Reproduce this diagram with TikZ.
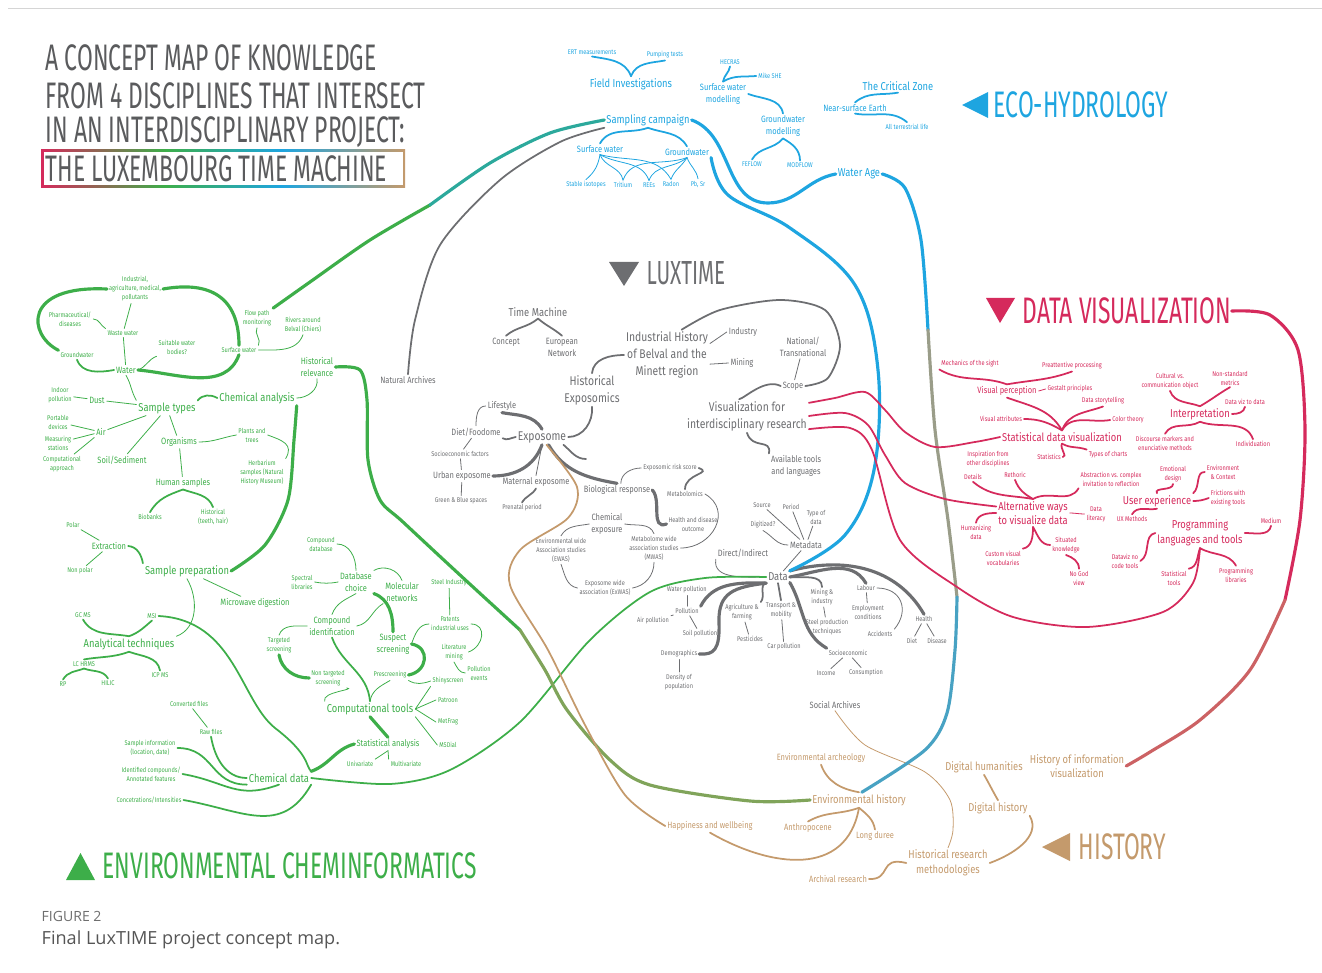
\documentclass[tikz,border=0pt]{standalone}
\usepackage{fontspec}
\setmainfont{Fira Sans}[FakeStretch=0.82]
\newfontfamily\headfont{Fira Sans}[FakeStretch=0.62]
\newfontfamily\capfont{Open Sans}
\usepackage{xcolor}
\usetikzlibrary{positioning, calc}
\tikzset{every picture/.append style={thick}}

\definecolor{ecoblue}{HTML}{1EA5E0}
\definecolor{envgreen}{HTML}{3DAE49}
\definecolor{luxgrey}{HTML}{6D6E71}
\definecolor{dvred}{HTML}{D52A5C}
\definecolor{histtan}{HTML}{C49A6C}
\definecolor{titlegrey}{HTML}{5A5B5D}
\definecolor{framegrey}{HTML}{D5D5D5}
\definecolor{capgrey}{HTML}{555555}
\colorlet{tealmix}{ecoblue!55!envgreen}
\colorlet{tanblue}{histtan!75!ecoblue}
\colorlet{bluetan}{ecoblue!75!histtan}
\colorlet{olivemix}{envgreen!50!histtan}
\colorlet{redtan}{dvred!50!histtan}

\pgfdeclarehorizontalshading{boxshade}{100bp}{color(0bp)=(dvred); color(25bp)=(dvred); color(42bp)=(envgreen); color(58bp)=(ecoblue); color(75bp)=(histtan); color(100bp)=(histtan)}

\tikzset{
  eco/.style={text=ecoblue, align=center, inner sep=0.8pt},
  env/.style={text=envgreen, align=center, inner sep=0.8pt},
  lux/.style={text=luxgrey, align=center, inner sep=0.8pt},
  dv/.style={text=dvred, align=center, inner sep=0.8pt},
  hist/.style={text=histtan, align=center, inner sep=0.8pt},
  xs/.style={font=\fontsize{3.9}{5.1}\selectfont},
  sm/.style={font=\fontsize{5.2}{6.8}\selectfont},
  md/.style={font=\fontsize{6.5}{8.4}\selectfont},
  lg/.style={font=\fontsize{7.2}{9.6}\selectfont},
  head/.style={font=\headfont\fontsize{21}{25}\selectfont, anchor=west, inner sep=0pt},
  ecoln/.style={draw=ecoblue, line width=0.45pt, line cap=round},
  envln/.style={draw=envgreen, line width=0.45pt, line cap=round},
  luxln/.style={draw=luxgrey, line width=0.45pt, line cap=round},
  dvln/.style={draw=dvred, line width=0.45pt, line cap=round},
  histln/.style={draw=histtan, line width=0.45pt, line cap=round},
  thk/.style={line width=1.0pt},
  big/.style={line width=1.8pt}
}

\begin{document}
\begin{tikzpicture}[x=0.02cm, y=0.02cm]
    \useasboundingbox (0,0) rectangle (1322,-973);

    % ==========================================
    % TITLE, FRAME AND CAPTION
    % ==========================================
    \draw[framegrey, line width=0.5pt] (8,-8) -- (1322,-8);
    \shade[shading=boxshade] (41,-150) rectangle (405,-188);
    \fill[white] (43.5,-152.5) rectangle (402.5,-185.5);
    \node[head, text=titlegrey] (title1) at (45,-58) {A CONCEPT MAP OF KNOWLEDGE};
    \node[head, text=titlegrey] (title2) at (45,-96) {FROM 4 DISCIPLINES THAT INTERSECT};
    \node[head, text=titlegrey] (title3) at (45,-132) {IN AN INTERDISCIPLINARY PROJECT:};
    \node[head, text=titlegrey] (title4) at (45,-169) {THE LUXEMBOURG TIME MACHINE};

    \node[anchor=west, inner sep=0pt, text=capgrey!85, font=\capfont\fontsize{8}{9}\selectfont] (figlabel) at (41,-916) {FIGURE 2};
    \node[anchor=west, inner sep=0pt, text=capgrey, font=\capfont\fontsize{10.3}{12}\selectfont] (figcaption) at (41,-940) {Final LuxTIME project concept map.};

    % ==========================================
    % HEADINGS
    % ==========================================
    \fill[ecoblue] (962,-105) -- (988,-92) -- (988,-118) -- cycle;
    \node[head, text=ecoblue] (ecohead) at (993,-105) {ECO-HYDROLOGY};
    \fill[luxgrey] (609,-262) -- (639,-262) -- (624,-286) -- cycle;
    \node[head, text=luxgrey, font=\headfont\fontsize{19}{22}\selectfont] (luxhead) at (646,-273) {LUXTIME};
    \fill[dvred] (986,-298) -- (1015,-298) -- (1000,-323) -- cycle;
    \node[head, text=dvred] (dvhead) at (1022,-311) {DATA VISUALIZATION};
    \fill[histtan] (1042,-847) -- (1070,-833) -- (1070,-861) -- cycle;
    \node[head, text=histtan] (histhead) at (1078,-847) {HISTORY};
    \fill[envgreen] (66,-880) -- (95,-880) -- (80.5,-853) -- cycle;
    \node[head, text=envgreen] (envhead) at (102,-866) {ENVIRONMENTAL CHEMINFORMATICS};

    % ==========================================
    % ECO-HYDROLOGY
    % ==========================================
    % 1. Nodes
    \node[eco,xs] (ert) at (592,-52) {ERT measurements};
    \node[eco,xs] (pump) at (665,-55) {Pumping tests};
    \node[eco,md] (fieldinv) at (631,-84) {Field Investigations};
    \node[eco,xs] (hecras) at (730,-62) {HECRAS};
    \node[eco,xs] (mikeshe) at (770,-76) {Mike SHE};
    \node[eco,sm] (swmod) at (723,-94) {Surface water\\modelling};
    \node[eco,sm] (gwmod) at (783,-126) {Groundwater\\modelling};
    \node[eco,xs] (feflow) at (752,-164) {FEFLOW};
    \node[eco,xs] (modflow) at (800,-165) {MODFLOW};
    \node[eco,md] (critzone) at (898,-86) {The Critical Zone};
    \node[eco,sm] (nearsurf) at (855,-108) {Near-surface Earth};
    \node[eco,xs] (terrlife) at (907,-127) {All terrestrial life};
    \node[eco,md] (sampling) at (648,-120) {Sampling campaign};
    \node[eco,sm] (ecosw) at (600,-149) {Surface water};
    \node[eco,sm] (ecogw) at (687,-152) {Groundwater};
    \node[eco,xs] (stableiso) at (586,-185) {Stable isotopes};
    \node[eco,xs] (tritium) at (623,-185) {Tritium};
    \node[eco,xs] (rees) at (649,-185) {REEs};
    \node[eco,xs] (radon) at (671,-184) {Radon};
    \node[eco,xs] (pbsr) at (698,-184) {Pb, Sr};
    \node[eco,md] (waterage) at (859,-174) {Water Age};

    % 2. Connectors
    \draw[ecoln,thk] (ert.south) to[out=-10,in=110] (fieldinv.north);
    \draw[ecoln,thk] (pump.south) to[out=190,in=70] (fieldinv.north);
    \draw[ecoln,thk] (hecras.south) to[out=-100,in=80] (swmod.north);
    \draw[ecoln,thk] (mikeshe.west) to[out=185,in=30] (swmod.north);
    \draw[ecoln,thk] (swmod.east) to[out=-20,in=100] (gwmod.north);
    \draw[ecoln,thk] (gwmod.south) to[out=-130,in=60] (feflow.north);
    \draw[ecoln,thk] (gwmod.south) to[out=-30,in=90] (modflow.north);
    \draw[ecoln,thk] (critzone.south) to[out=190,in=40] (nearsurf.north);
    \draw[ecoln,thk] (nearsurf.south) to[out=-10,in=140] (terrlife.north);
    \draw[ecoln,thk] (sampling.south) to[out=200,in=60] (ecosw.north);
    \draw[ecoln,thk] (sampling.south) to[out=-20,in=120] (ecogw.north);
    \draw[ecoln] (ecosw.south) to[out=-100,in=40] (stableiso.north);
    \draw[ecoln] (ecosw.south) to[out=-70,in=100] (tritium.north);
    \draw[ecoln] (ecosw.south) to[out=-30,in=110] (rees.north);
    \draw[ecoln] (ecosw.south) to[out=-15,in=120] (radon.north);
    \draw[ecoln] (ecogw.south) to[out=-160,in=70] (tritium.north);
    \draw[ecoln] (ecogw.south) to[out=-140,in=70] (rees.north);
    \draw[ecoln] (ecogw.south) to[out=-120,in=70] (radon.north);
    \draw[ecoln] (ecogw.south) to[out=-70,in=100] (pbsr.north);
    \coordinate (scdip) at (768,-203);
    \draw[ecoln,big] (sampling.east) to[out=-20,in=180] (scdip) to[out=0,in=190] (waterage.west);

    % ==========================================
    % ENVIRONMENTAL CHEMINFORMATICS
    % ==========================================
    % 1. Sample types
    \node[env,xs] (industrial) at (135,-289) {Industrial,\\agriculture, medical,\\pollutants};
    \node[env,xs] (pharma) at (70,-319) {Pharmaceutical/\\diseases};
    \node[env,xs] (wastewater) at (123,-333) {Waste water};
    \node[env,xs] (suitable) at (177,-347) {Suitable water\\bodies?};
    \node[env,xs] (envgw) at (77,-355) {Groundwater};
    \node[env,sm] (water) at (126,-370) {Water};
    \node[env,xs] (flowpath) at (257,-318) {Flow path\\monitoring};
    \node[env,xs] (rivers) at (303,-325) {Rivers around\\Belval (Chiers)};
    \node[env,xs] (envsw) at (239,-350) {Surface water};
    \node[env,sm] (histrel) at (317,-367) {Historical\\relevance};
    \node[env,xs] (indoor) at (60,-395) {Indoor\\pollution};
    \node[env,sm] (dust) at (97,-400) {Dust};
    \node[env,md] (sampletypes) at (167,-408) {Sample types};
    \node[env,md] (chemanalysis) at (257,-398) {Chemical analysis};
    \node[env,xs] (portable) at (58,-422) {Portable\\devices};
    \node[env,sm] (air) at (101,-432) {Air};
    \node[env,xs] (measuring) at (58,-443) {Measuring\\stations};
    \node[env,xs] (computational) at (62,-464) {Computational\\approach};
    \node[env,sm] (soil) at (122,-460) {Soil/Sediment};
    \node[env,sm] (organisms) at (179,-442) {Organisms};
    \node[env,xs] (plants) at (252,-435) {Plants and\\trees};
    \node[env,xs] (herbarium) at (262,-473) {Herbarium\\samples (Natural\\History Museum)};
    \node[env,sm] (human) at (183,-483) {Human samples};
    \node[env,xs] (biobanks) at (150,-517) {Biobanks};
    \node[env,xs] (histteeth) at (213,-517) {Historical\\(teeth, hair)};

    \draw[envln] (industrial) -- (wastewater);
    \draw[envln] (pharma.east) to[out=0,in=150] (wastewater.north west);
    \draw[envln] (wastewater) -- (water);
    \draw[envln] (suitable.south west) to[out=200,in=20] (water.east);
    \draw[envln,thk] (envgw.south) to[out=-70,in=190] (water.west);
    \draw[envln,big] (envgw.north west) .. controls (28,-335) and (22,-285) .. (industrial.west);
    \draw[envln,big] (industrial.east) to[out=10,in=90,looseness=1.3] (envsw.north);
    \draw[envln,big] (water.east) to[out=-5,in=-110] (envsw.south);
    \draw[envln] (flowpath.south) to[out=-120,in=60] (envsw.north east);
    \draw[envln] (rivers.south) to[out=-110,in=0] (envsw.east);
    \draw[envln] (histrel.south) to[out=-80,in=0] (chemanalysis.east);
    \draw[envln] (water.south) to[out=-60,in=120] (sampletypes.north west);
    \draw[envln] (dust) -- (indoor);
    \draw[envln] (dust) -- (sampletypes);
    \draw[envln,thk] (sampletypes.north east) to[out=50,in=150] (chemanalysis.west);
    \draw[envln] (air) -- (sampletypes);
    \draw[envln] (air) -- (portable);
    \draw[envln] (air) -- (measuring);
    \draw[envln] (air) -- (computational);
    \draw[envln] (soil) -- (sampletypes);
    \draw[envln] (organisms) -- (sampletypes);
    \draw[envln] (organisms.east) to[out=0,in=190] (plants.west);
    \draw[envln] (plants.east) to[out=-20,in=60,looseness=1.4] (herbarium.north east);
    \draw[envln] (organisms) -- (human);
    \draw[envln,thk] (human.south) to[out=200,in=60] (biobanks.north);
    \draw[envln,thk] (human.south) to[out=-20,in=110] (histteeth.north);

    % 2. Sample preparation and analysis
    \node[env,xs] (polar) at (73,-525) {Polar};
    \node[env,sm] (extraction) at (109,-546) {Extraction};
    \node[env,xs] (nonpolar) at (80,-571) {Non polar};
    \node[env,md] (sampleprep) at (187,-571) {Sample preparation};
    \node[env,sm] (microwave) at (255,-603) {Microwave digestion};
    \node[env,xs] (gcms) at (83,-615) {GC MS};
    \node[env,xs] (msi) at (152,-616) {MSI};
    \node[env,md] (analytical) at (129,-644) {Analytical techniques};
    \node[env,xs] (lchrms) at (84,-664) {LC HRMS};
    \node[env,xs] (icpms) at (160,-675) {ICP MS};
    \node[env,xs] (rp) at (63,-684) {RP};
    \node[env,xs] (hilic) at (108,-683) {HILIC};

    \draw[envln,big] plot[smooth] coordinates {(chemanalysis.south east) (294,-440) (288,-500) (265,-545) (sampleprep.east)};
    \draw[envln] (polar) -- (extraction);
    \draw[envln] (nonpolar) -- (extraction);
    \draw[envln,thk] (extraction.east) to[out=-5,in=100] (sampleprep.north west);
    \draw[envln] (sampleprep) -- (microwave);
    \draw[envln] (sampleprep.south) to[out=-60,in=20] (analytical.north east);
    \draw[envln,thk] (gcms.south) to[out=-60,in=170] (analytical.north);
    \draw[envln,thk] (msi.south) to[out=-140,in=20] (analytical.north);
    \draw[envln,thk] (analytical.south) to[out=-160,in=10] (lchrms.north);
    \draw[envln,thk] (analytical.south) to[out=-20,in=100] (icpms.north);
    \draw[envln,thk] (lchrms.south) to[out=200,in=60] (rp.north);
    \draw[envln,thk] (lchrms.south) to[out=-20,in=120] (hilic.north);

    % 3. Chemical data
    \node[env,xs] (converted) at (189,-704) {Converted files};
    \node[env,xs] (rawfiles) at (211,-732) {Raw files};
    \node[env,xs] (sampleinfo) at (150,-748) {Sample information\\(location, date)};
    \node[env,xs] (identified) at (151,-774) {Identified compounds/\\Annotated features};
    \node[env,xs] (concentr) at (149,-800) {Concetrations/Intensities};
    \node[env,md] (chemdata) at (279,-778) {Chemical data};

    \draw[envln,thk] (msi.east) .. controls (235,-620) and (240,-700) .. (275,-728) .. controls (310,-755) and (305,-765) .. (chemdata.north east);
    \draw[envln] (converted) -- (rawfiles);
    \draw[envln,thk] (rawfiles.south) to[out=-80,in=180] (chemdata.west);
    \draw[envln,thk] (sampleinfo.east) to[out=0,in=180,looseness=1.2] (chemdata.south west);
    \draw[envln,thk] (identified.east) to[out=-10,in=200,looseness=1.2] (chemdata.south);
    \draw[envln,thk] (concentr.east) to[out=-10,in=-120,looseness=1.2] (chemdata.south east);

    % 4. Compound identification and tools
    \node[env,xs] (compdb) at (321,-544) {Compound\\database};
    \node[env,sm] (dbchoice) at (356,-582) {Database\\choice};
    \node[env,xs] (spectral) at (302,-582) {Spectral\\libraries};
    \node[env,sm] (molnet) at (402,-592) {Molecular\\networks};
    \node[env,sm] (compid) at (332,-626) {Compound\\identification};
    \node[env,xs] (steelind) at (449,-583) {Steel Industry};
    \node[env,xs] (patents) at (450,-624) {Patents\\industrial uses};
    \node[env,sm] (suspect) at (393,-644) {Suspect\\screening};
    \node[env,xs] (litmining) at (454,-652) {Literature\\mining};
    \node[env,xs] (pollevents) at (479,-673) {Pollution\\events};
    \node[env,xs] (targeted) at (279,-645) {Targeted\\screening};
    \node[env,xs] (nontargeted) at (328,-678) {Non targeted\\screening};
    \node[env,xs] (prescreening) at (390,-675) {Prescreening};
    \node[env,xs] (shinyscreen) at (448,-681) {Shinyscreen};
    \node[env,md] (comptools) at (370,-709) {Computational tools};
    \node[env,xs] (patroon) at (448,-700) {Patroon};
    \node[env,xs] (metfrag) at (448,-722) {MetFrag};
    \node[env,xs] (msdial) at (448,-745) {MSDial};
    \node[env,sm] (statanalysis) at (388,-744) {Statistical analysis};
    \node[env,xs] (univariate) at (360,-764) {Univariate};
    \node[env,xs] (multivariate) at (406,-764) {Multivariate};

    \draw[envln] (compdb.east) to[out=0,in=90] (dbchoice.north);
    \draw[envln] (spectral.east) to[out=-10,in=190] (dbchoice.west);
    \draw[envln] (dbchoice.north east) to[out=30,in=110] (molnet.north);
    \draw[envln] (dbchoice.south) to[out=-150,in=70] (compid.north);
    \draw[envln] (molnet.south west) to[out=-150,in=10] (compid.east);
    \draw[envln,big] (dbchoice.south east) to[out=-20,in=90] (suspect.north);
    \draw[envln] (compid.west) to[out=180,in=70] (targeted.north);
    \draw[envln,big] (targeted.south) to[out=-80,in=180] (nontargeted.west);
    \draw[envln] (nontargeted.south east) to[out=-10,in=110] (comptools.north west);
    \draw[envln,thk] (compid.south) to[out=-70,in=95] (comptools.north);
    \draw[envln,big] (suspect.east) to[out=-10,in=10,looseness=1.6] (prescreening.east);
    \draw[envln] (prescreening.south) to[out=-150,in=80] (comptools.north);
    \draw[envln] (suspect.east) to[out=70,in=180] (patents.west);
    \draw[envln] (steelind) -- (patents);
    \draw[envln] (patents.east) to[out=0,in=20,looseness=1.5] (litmining.east);
    \draw[envln] (litmining.south) to[out=-60,in=180] (pollevents.west);
    \draw[envln] (prescreening.south east) to[out=-30,in=200] (shinyscreen.west);
    \draw[envln] (comptools.east) -- (shinyscreen.south west);
    \draw[envln] (comptools.east) -- (patroon.west);
    \draw[envln] (comptools.east) -- (metfrag.west);
    \draw[envln] (comptools.south east) -- (msdial.west);
    \draw[envln,big] (comptools.south) -- (statanalysis.north);
    \draw[envln] (statanalysis.south) -- (univariate.north east);
    \draw[envln] (statanalysis.south) -- (multivariate.north west);
    \draw[envln,big] (chemdata.north east) to[out=20,in=195] (statanalysis.west);

    % ==========================================
    % LUXTIME
    % ==========================================
    % 1. Historical exposomics
    \node[lux,md] (timemachine) at (538,-312) {Time Machine};
    \node[lux,sm] (concept) at (506,-342) {Concept};
    \node[lux,sm] (eunet) at (562,-347) {European\\Network};
    \node[lux,sm] (natarch) at (408,-380) {Natural Archives};
    \node[lux,lg] (histexpo) at (592,-390) {Historical\\Exposomics};
    \node[lux,lg] (indhist) at (667,-355) {Industrial History\\of Belval and the\\Minett region};
    \node[lux,sm] (industry) at (743,-332) {Industry};
    \node[lux,sm] (mining) at (742,-363) {Mining};
    \node[lux,sm] (national) at (803,-347) {National/\\Transnational};
    \node[lux,sm] (scope) at (793,-386) {Scope};
    \node[lux,lg] (vis4ir) at (747,-416) {Visualization for\\interdisciplinary research};
    \node[lux,sm] (availtools) at (796,-466) {Available tools\\and languages};

    \draw[luxln,thk] (timemachine.south) to[out=-140,in=40] (concept.north);
    \draw[luxln,thk] (timemachine.south) to[out=-40,in=140] (eunet.north);
    \draw[luxln,thk] (histexpo.north) to[out=85,in=180] (indhist.west);
    \draw[luxln] (indhist.15) -- (industry.west);
    \draw[luxln] (indhist.-12) -- (mining.west);
    \draw[luxln,thk] plot[smooth] coordinates {(indhist.60) (720,-310) (780,-300) (825,-310) (840,-345) (828,-378) (scope.east)};
    \draw[luxln] (national) -- (scope);
    \draw[luxln,thk] (scope.west) .. controls (765,-378) and (745,-398) .. (vis4ir.115);
    \draw[luxln,thk] (vis4ir.south) .. controls (752,-450) and (772,-438) .. (availtools.north west);

    % 2. Exposome
    \node[lux,sm] (lifestyle) at (502,-406) {Lifestyle};
    \node[lux,sm] (diet) at (476,-432) {Diet/Foodome};
    \node[lux,lg] (exposome) at (542,-437) {Exposome};
    \node[lux,xs] (socio) at (460,-454) {Socioeconomic factors};
    \node[lux,sm] (urban) at (462,-476) {Urban exposome};
    \node[lux,sm] (maternal) at (536,-482) {Maternal exposome};
    \node[lux,xs] (greenblue) at (461,-501) {Green \& Blue spaces};
    \node[lux,xs] (prenatal) at (522,-508) {Prenatal period};
    \node[lux,sm] (bioresp) at (617,-490) {Biological response};
    \node[lux,xs] (riskscore) at (670,-468) {Exposomic risk score};
    \node[lux,xs] (metabolomics) at (685,-494) {Metabolomics};
    \node[lux,xs] (health) at (693,-524) {Health and disease\\outcome};
    \node[lux,sm] (chemexp) at (607,-524) {Chemical\\exposure};
    \node[lux,xs] (ewas) at (561,-550) {Environmental wide\\Association studies\\(EWAS)};
    \node[lux,xs] (mwas) at (654,-548) {Metabolome wide\\association studies\\(MWAS)};
    \node[lux,xs] (exwas) at (605,-588) {Exposome wide\\association (ExWAS)};
    \coordinate (expo-stub) at (586,-459);

    \draw[luxln,thk] (exposome.east) to[out=0,in=-85] (histexpo.south);
    \draw[luxln] (lifestyle.west) to[out=180,in=90] (diet.north);
    \draw[luxln,big] (lifestyle.south) to[out=-10,in=120] (exposome.north);
    \draw[luxln,thk] (diet.south east) to[out=-30,in=190] (exposome.west);
    \draw[luxln] (diet) -- (socio);
    \draw[luxln] (socio) -- (urban);
    \draw[luxln] (urban) -- (greenblue);
    \draw[luxln,big] (exposome.south) to[out=-110,in=0] (urban.east);
    \draw[luxln] (exposome.south) -- (maternal.north);
    \draw[luxln,thk] (prenatal.north) to[out=60,in=-120] (maternal.south);
    \draw[luxln,big] (exposome.-50) to[out=-60,in=170] (bioresp.north);
    \draw[luxln,thk] (exposome.-20) to[out=-40,in=180] (expo-stub);
    \draw[luxln] (bioresp.60) to[out=90,in=180] (riskscore.west);
    \draw[luxln,thk] (riskscore.east) to[out=-20,in=90,looseness=1.6] (metabolomics.north);
    \draw[luxln,big] (bioresp.east) .. controls (662,-500) and (650,-530) .. (health.west);
    \draw[luxln] (metabolomics.east) to[out=-30,in=0,looseness=1.4] (mwas.east);
    \draw[luxln] (chemexp.west) to[out=190,in=60] (ewas.north);
    \draw[luxln] (chemexp.east) to[out=-10,in=110] (mwas.north);
    \draw[luxln] (ewas.south) to[out=-70,in=170] (exwas.west);
    \draw[luxln] (mwas.south) to[out=-90,in=10] (exwas.east);

    % 3. Data
    \node[lux,sm] (direct) at (743,-553) {Direct/Indirect};
    \node[lux,md] (data) at (778,-577) {Data};
    \node[lux,xs] (source) at (762,-505) {Source};
    \node[lux,xs] (period) at (791,-507) {Period};
    \node[lux,xs] (typedata) at (816,-517) {Type of\\data};
    \node[lux,xs] (digitized) at (763,-525) {Digitized?};
    \node[lux,sm] (metadata) at (806,-545) {Metadata};
    \node[lux,xs] (waterpol) at (687,-590) {Water pollution};
    \node[lux,xs] (pollution) at (687,-611) {Pollution};
    \node[lux,xs] (airpol) at (653,-621) {Air pollution};
    \node[lux,xs] (soilpol) at (700,-634) {Soil pollution};
    \node[lux,xs] (demog) at (679,-654) {Demographics};
    \node[lux,xs] (density) at (679,-682) {Density of\\population};
    \node[lux,xs] (agri) at (742,-612) {Agriculture \&\\farming};
    \node[lux,xs] (pesticides) at (750,-639) {Pesticides};
    \node[lux,xs] (transport) at (781,-610) {Transport \&\\mobility};
    \node[lux,xs] (carpol) at (784,-647) {Car pollution};
    \node[lux,xs] (miningind) at (822,-597) {Mining \&\\industry};
    \node[lux,xs] (steel) at (827,-627) {Steel production\\techniques};
    \node[lux,xs] (labour) at (866,-588) {Labour};
    \node[lux,xs] (employ) at (868,-612) {Employment\\conditions};
    \node[lux,xs] (accidents) at (880,-634) {Accidents};
    \node[lux,xs] (healthnode) at (924,-619) {Health};
    \node[lux,xs] (dietd) at (912,-641) {Diet};
    \node[lux,xs] (disease) at (937,-641) {Disease};
    \node[lux,xs] (socioeco) at (848,-653) {Socioeconomic};
    \node[lux,xs] (income) at (826,-673) {Income};
    \node[lux,xs] (consumption) at (866,-673) {Consumption};
    \node[lux,sm] (socarch) at (835,-705) {Social Archives};

    \draw[luxln] (direct.south west) to[out=-100,in=180] (data.west);
    \draw[luxln] (source) -- (metadata);
    \draw[luxln] (period) -- (metadata);
    \draw[luxln] (typedata) -- (metadata);
    \draw[luxln] (digitized.south) to[out=-30,in=180] (metadata.west);
    \draw[luxln] (metadata) -- (data);
    \draw[luxln,big] (data.south west) .. controls (735,-582) and (712,-584) .. (pollution.north east);
    \draw[luxln] (pollution) -- (waterpol);
    \draw[luxln] (pollution) -- (airpol);
    \draw[luxln] (pollution) -- (soilpol);
    \draw[luxln,big] (data.south west) .. controls (735,-587) and (718,-592) .. (719,-622) .. controls (720,-650) and (714,-655) .. (demog.east);
    \draw[luxln] (demog) -- (density);
    \draw[luxln,thk] (data.south west) to[out=195,in=50] (agri.north east);
    \draw[luxln] (agri) -- (pesticides);
    \draw[luxln,thk] (data.south) -- (transport.north);
    \draw[luxln] (transport) -- (carpol);
    \draw[luxln,thk] (data.east) to[out=-5,in=90] (miningind.north);
    \draw[luxln] (miningind) -- (steel);
    \draw[luxln,big] (data.-25) to[out=-60,in=150] (socioeco.north west);
    \draw[luxln] (socioeco) -- (income);
    \draw[luxln] (socioeco) -- (consumption);
    \draw[luxln,big] (data.east) to[out=10,in=120] (labour.north);
    \draw[luxln] (labour) -- (employ);
    \draw[luxln] (labour.east) to[out=0,in=50,looseness=1.4] (accidents.north east);
    \draw[luxln,big] (data.north east) to[out=15,in=120] (healthnode.north);
    \draw[luxln] (healthnode) -- (dietd);
    \draw[luxln] (healthnode) -- (disease);

    % ==========================================
    % DATA VISUALIZATION
    % ==========================================
    % 1. Statistical data visualization
    \node[dv,xs] (mechanics) at (970,-364) {Mechanics of the sight};
    \node[dv,xs] (preattentive) at (1072,-366) {Preattentive processing};
    \node[dv,sm] (visperc) at (1007,-391) {Visual perception};
    \node[dv,xs] (gestalt) at (1070,-389) {Gestalt principles};
    \node[dv,xs] (storytelling) at (1103,-401) {Data storytelling};
    \node[dv,xs] (visattr) at (1001,-419) {Visual attributes};
    \node[dv,xs] (colortheory) at (1128,-420) {Color theory};
    \node[dv,md] (statdv) at (1062,-437) {Statistical data visualization};
    \node[dv,xs] (statistics) at (1049,-457) {Statistics};
    \node[dv,xs] (charttypes) at (1108,-455) {Types of charts};

    \draw[dvln,thk] (mechanics.south west) to[out=-30,in=160] (visperc.north);
    \draw[dvln,thk] (visperc.north) to[out=10,in=200] (preattentive.south);
    \draw[dvln] (visperc.east) to[out=20,in=190] (gestalt.west);
    \draw[dvln,thk] (visperc.south) to[out=-20,in=120] (statdv.north);
    \draw[dvln,thk] (visattr.east) to[out=0,in=150] (statdv.north);
    \draw[dvln,thk] (storytelling.south) to[out=-160,in=70] (statdv.north);
    \draw[dvln,thk] (colortheory.west) to[out=190,in=60] (statdv.north);
    \draw[dvln,thk] (statdv.south) to[out=-120,in=0] (statistics.east);
    \draw[dvln,thk] (statdv.south) to[out=-30,in=160] (charttypes.north west);

    % 2. Interpretation
    \node[dv,xs] (cultural) at (1170,-381) {Cultural vs.\\communication object};
    \node[dv,xs] (nonstd) at (1230,-378) {Non-standard\\metrics};
    \node[dv,md] (interp) at (1200,-414) {Interpretation};
    \node[dv,xs] (vizdata) at (1245,-402) {Data viz to data};
    \node[dv,xs] (discourse) at (1165,-443) {Discourse markers and\\enunciative methods};
    \node[dv,xs] (individuation) at (1253,-444) {Individuation};

    \draw[dvln,thk] (cultural.south) to[out=-70,in=160] (interp.north);
    \draw[dvln,thk] (nonstd.south) to[out=-150,in=30] (interp.north);
    \draw[dvln,thk] (vizdata.south) to[out=-100,in=0] (interp.east);
    \draw[dvln,thk] (interp.south) to[out=-150,in=60] (discourse.north);
    \draw[dvln,thk] (interp.south) to[out=-20,in=110] (individuation.north);

    % 3. Alternative ways
    \node[dv,xs] (inspiration) at (988,-459) {Inspiration from\\other disciplines};
    \node[dv,xs] (details) at (973,-477) {Details};
    \node[dv,xs] (rethoric) at (1015,-475) {Rethoric};
    \node[dv,xs] (abstraction) at (1111,-479) {Abstraction vs. complex\\invitation to reflection};
    \node[dv,md] (altways) at (1033,-513) {Alternative ways\\to visualize data};
    \node[dv,xs] (literacy) at (1096,-514) {Data\\literacy};
    \node[dv,xs] (humanizing) at (976,-532) {Humanizing\\data};
    \node[dv,xs] (custom) at (1003,-558) {Custom visual\\vocabularies};
    \node[dv,xs] (situated) at (1066,-545) {Situated\\knowledge};
    \node[dv,xs] (nogod) at (1079,-578) {No God\\view};

    \draw[dvln,thk] (details.south) to[out=-40,in=170] (altways.north);
    \draw[dvln,thk] (rethoric.south) to[out=-70,in=150] (altways.north);
    \draw[dvln,thk] (abstraction.south west) to[out=-120,in=30] (altways.north);
    \draw[dvln,thk] (humanizing.north) to[out=80,in=180] (altways.west);
    \draw[dvln] (altways.east) to[out=0,in=180] (literacy.west);
    \draw[dvln,thk] (altways.south) to[out=-90,in=10] (custom.north east);
    \draw[dvln,thk] (altways.south) to[out=-60,in=180] (situated.west);
    \draw[dvln,thk] (situated.south) to[out=-20,in=90] (nogod.north);

    % 4. User experience and tools
    \node[dv,xs] (emotional) at (1173,-474) {Emotional\\design};
    \node[dv,xs] (environment) at (1223,-472) {Environment\\\& Context};
    \node[dv,md] (ux) at (1157,-501) {User experience};
    \node[dv,xs] (frictions) at (1228,-498) {Frictions with\\existing tools};
    \node[dv,xs] (uxmethods) at (1132,-519) {UX Methods};
    \node[dv,md] (proglang) at (1200,-533) {Programming\\languages and tools};
    \node[dv,xs] (medium) at (1271,-521) {Medium};
    \node[dv,xs] (nocode) at (1125,-561) {Dataviz no\\code tools};
    \node[dv,xs] (stattools) at (1174,-578) {Statistical\\tools};
    \node[dv,xs] (proglibs) at (1236,-575) {Programming\\libraries};

    \draw[dvln,thk] (ux.north) to[out=120,in=-90] (emotional.south);
    \draw[dvln,thk] (ux.north east) to[out=40,in=180] (environment.west);
    \draw[dvln,thk] (ux.east) to[out=0,in=200] (frictions.west);
    \draw[dvln,thk] (ux.south) to[out=-170,in=60] (uxmethods.north);
    \draw[dvln,thk] (proglang.west) to[out=190,in=30] (nocode.east);
    \draw[dvln,thk] (proglang.east) to[out=0,in=-100] (medium.south);
    \draw[dvln,thk] (proglang.south) to[out=-110,in=10] (stattools.north east);
    \draw[dvln,thk] (proglang.south) to[out=-30,in=120] (proglibs.north);

    % ==========================================
    % HISTORY
    % ==========================================
    \node[hist,sm] (envarch) at (821,-758) {Environmental archeology};
    \node[hist,md] (dighum) at (984,-767) {Digital humanities};
    \node[hist,md] (histinfovis) at (1077,-766) {History of information\\visualization};
    \node[hist,md] (envhistory) at (859,-800) {Environmental history};
    \node[hist,md] (dighist) at (998,-808) {Digital history};
    \node[hist,sm] (happiness) at (710,-826) {Happiness and wellbeing};
    \node[hist,sm] (anthropocene) at (808,-828) {Anthropocene};
    \node[hist,sm] (longduree) at (875,-836) {Long duree};
    \node[hist,md] (histmethods) at (948,-863) {Historical research\\methodologies};
    \node[hist,sm] (archival) at (838,-879) {Archival research};

    \draw[histln,thk] (envarch.south) to[out=-70,in=170] (envhistory.north);
    \draw[histln,thk] (envhistory.south) to[out=200,in=30] (anthropocene.north);
    \draw[histln,thk] (envhistory.south) to[out=-40,in=100] (longduree.north);
    \draw[histln,thk] (happiness.south) to[out=-30,in=-100,looseness=1.2] (envhistory.south);
    \draw[histln,thk] (dighum.south) to[out=-60,in=120] (dighist.north);
    \draw[histln,thk] (dighist.south east) to[out=-60,in=20] (histmethods.east);
    \draw[histln,thk] (archival.east) .. controls (892,-880) and (878,-856) .. (histmethods.west);
    \draw[histln] plot[smooth] coordinates {(socarch.south) (865,-745) (925,-772) (950,-800) (953,-830) (histmethods.north)};

    % ==========================================
    % LINKS BETWEEN DISCIPLINES
    % ==========================================
    % 1. Eco-hydrology
    \draw[ecoln,big] plot[smooth, tension=0.6] coordinates {(ecogw.south east) (728,-195) (790,-228) (855,-285) (878,-370) (874,-470) (845,-535) (data.north east)};
    \coordinate (wa-mid1) at (928,-330);
    \coordinate (wa-mid2) at (957,-597);
    \draw[ecoln,big] plot[smooth] coordinates {(waterage.east) (905,-188) (921,-240) (wa-mid1)};
    \draw[ecoln,big,draw=tanblue] plot[smooth] coordinates {(wa-mid1) (935,-430) (948,-520) (wa-mid2)};
    \draw[ecoln,big,draw=bluetan] plot[smooth] coordinates {(wa-mid2) (955,-650) (947,-713) (925,-750) (envhistory.70)};

    % 2. Environmental cheminformatics
    \coordinate (fp-mid) at (430,-205);
    \draw[envln,big] plot[smooth] coordinates {(flowpath.north east) (310,-282) (370,-240) (fp-mid)};
    \draw[envln,big,draw=tealmix] plot[smooth] coordinates {(fp-mid) (490,-163) (550,-133) (sampling.west)};
    \draw[envln,thk] plot[smooth] coordinates {(chemdata.east) (390,-784) (450,-770) (520,-722) (590,-640) (650,-592) (705,-578) (data.west)};
    \coordinate (hr-mid) at (520,-630);
    \draw[envln,big] plot[smooth] coordinates {(histrel.east) (360,-370) (367,-400) (368,-460) (380,-500) (403,-522) (460,-575) (hr-mid)};
    \draw[envln,big,draw=olivemix] plot[smooth] coordinates {(hr-mid) (545,-670) (567,-710) (610,-760) (650,-785) (750,-801) (envhistory.west)};

    % 3. Luxtime
    \draw[luxln,thk] plot[smooth] coordinates {(natarch.north) (415,-320) (440,-245) (500,-180) (560,-142) (sampling.south west)};
    \draw[histln,thk] plot[smooth] coordinates {(exposome.-60) (577,-487) (568,-518) (520,-550) (510,-585) (548,-650) (585,-725) (625,-795) (happiness.west)};

    % 4. Data visualization
    \draw[dvln,thk] plot[smooth] coordinates {(vis4ir.12) (835,-398) (865,-392) (885,-410) (905,-432) (935,-447) (975,-442) (statdv.west)};
    \draw[dvln,thk] plot[smooth] coordinates {(vis4ir.east) (845,-413) (868,-425) (885,-455) (905,-483) (945,-499) (altways.170)};
    \draw[dvln,thk] plot[smooth] coordinates {(vis4ir.-12) (850,-428) (872,-450) (900,-540) (957,-587) (1013,-617) (1087,-627) (1163,-612) (1193,-583) (proglang.south)};
    \coordinate (dv-mid) at (1285,-600);
    \draw[dvln,big] plot[smooth] coordinates {(dvhead.east) (1270,-315) (1298,-350) (1305,-430) (1300,-520) (dv-mid)};
    \draw[dvln,big,draw=redtan] plot[smooth] coordinates {(dv-mid) (1250,-670) (1200,-720) (1150,-752) (histinfovis.east)};

\end{tikzpicture}
\end{document}
